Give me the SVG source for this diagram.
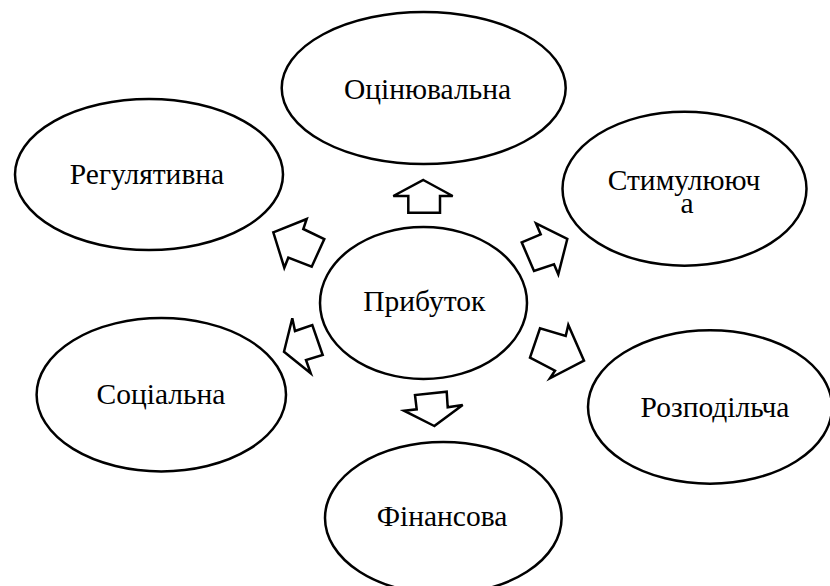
<svg xmlns="http://www.w3.org/2000/svg" width="830" height="586" viewBox="0 0 830 586">
<style>
.n{fill:#fff;stroke:#000;stroke-width:2.5}
.a{fill:#fff;stroke:#000;stroke-width:2.5;stroke-linejoin:miter}
.t{font-size:29.5px;fill:#000;text-anchor:middle}
</style>
<rect width="830" height="586" fill="#fff"/>
<g font-family="Liberation Serif, DejaVu Serif, serif">
<g id="n-otsin"><ellipse class="n" cx="423.7" cy="88" rx="142" ry="76"/><text class="t" x="427.5" y="98.5">Оцінювальна</text></g>
<g id="n-rehul"><ellipse class="n" cx="149" cy="174.5" rx="134" ry="75.5"/><text class="t" x="147" y="184">Регулятивна</text></g>
<g id="n-stym"><ellipse class="n" cx="684.5" cy="188.7" rx="122" ry="77"/><text class="t" x="684" y="190">Стимулююч</text><text class="t" x="687" y="213">а</text></g>
<g id="n-prybutok"><ellipse class="n" cx="423.5" cy="303" rx="103.5" ry="76"/><text class="t" x="424.3" y="311">Прибуток</text></g>
<g id="n-sots"><ellipse class="n" cx="161.3" cy="394.7" rx="124.7" ry="76.7"/><text class="t" x="161" y="404">Соціальна</text></g>
<g id="n-rozp"><ellipse class="n" cx="710" cy="407" rx="122" ry="76.7"/><text class="t" x="715" y="417">Розподільча</text></g>
<g id="n-fin"><ellipse class="n" cx="443.3" cy="518" rx="118.3" ry="76"/><text class="t" x="442" y="526">Фінансова</text></g>
</g>
<g id="connectors">
<polygon class="a" points="423.3,180 452.7,196 440,196 440,212.7 408.3,212.7 408.3,196 393.3,196"/>
<polygon class="a" points="273.3,232.3 306.7,219 303.3,229 324.3,239 311.7,266.7 288.3,257.7 284.3,267.7"/>
<polygon class="a" points="567.3,239 558.3,274.3 554,264.3 534,271 521.7,242.3 540.7,234.3 536,223.3"/>
<polygon class="a" points="284,351.7 292.3,318.3 295,331 312.3,325 322.7,355 306,360 310.7,373.3"/>
<polygon class="a" points="584,360.7 550,378.3 555,370.7 530,357.7 540,328.3 565.7,336 568.3,325"/>
<polygon class="a" points="434.3,426 404,410.7 416.7,409.3 415,395 446.7,391.7 447.7,407.3 462.7,405"/>
</g>
</svg>
